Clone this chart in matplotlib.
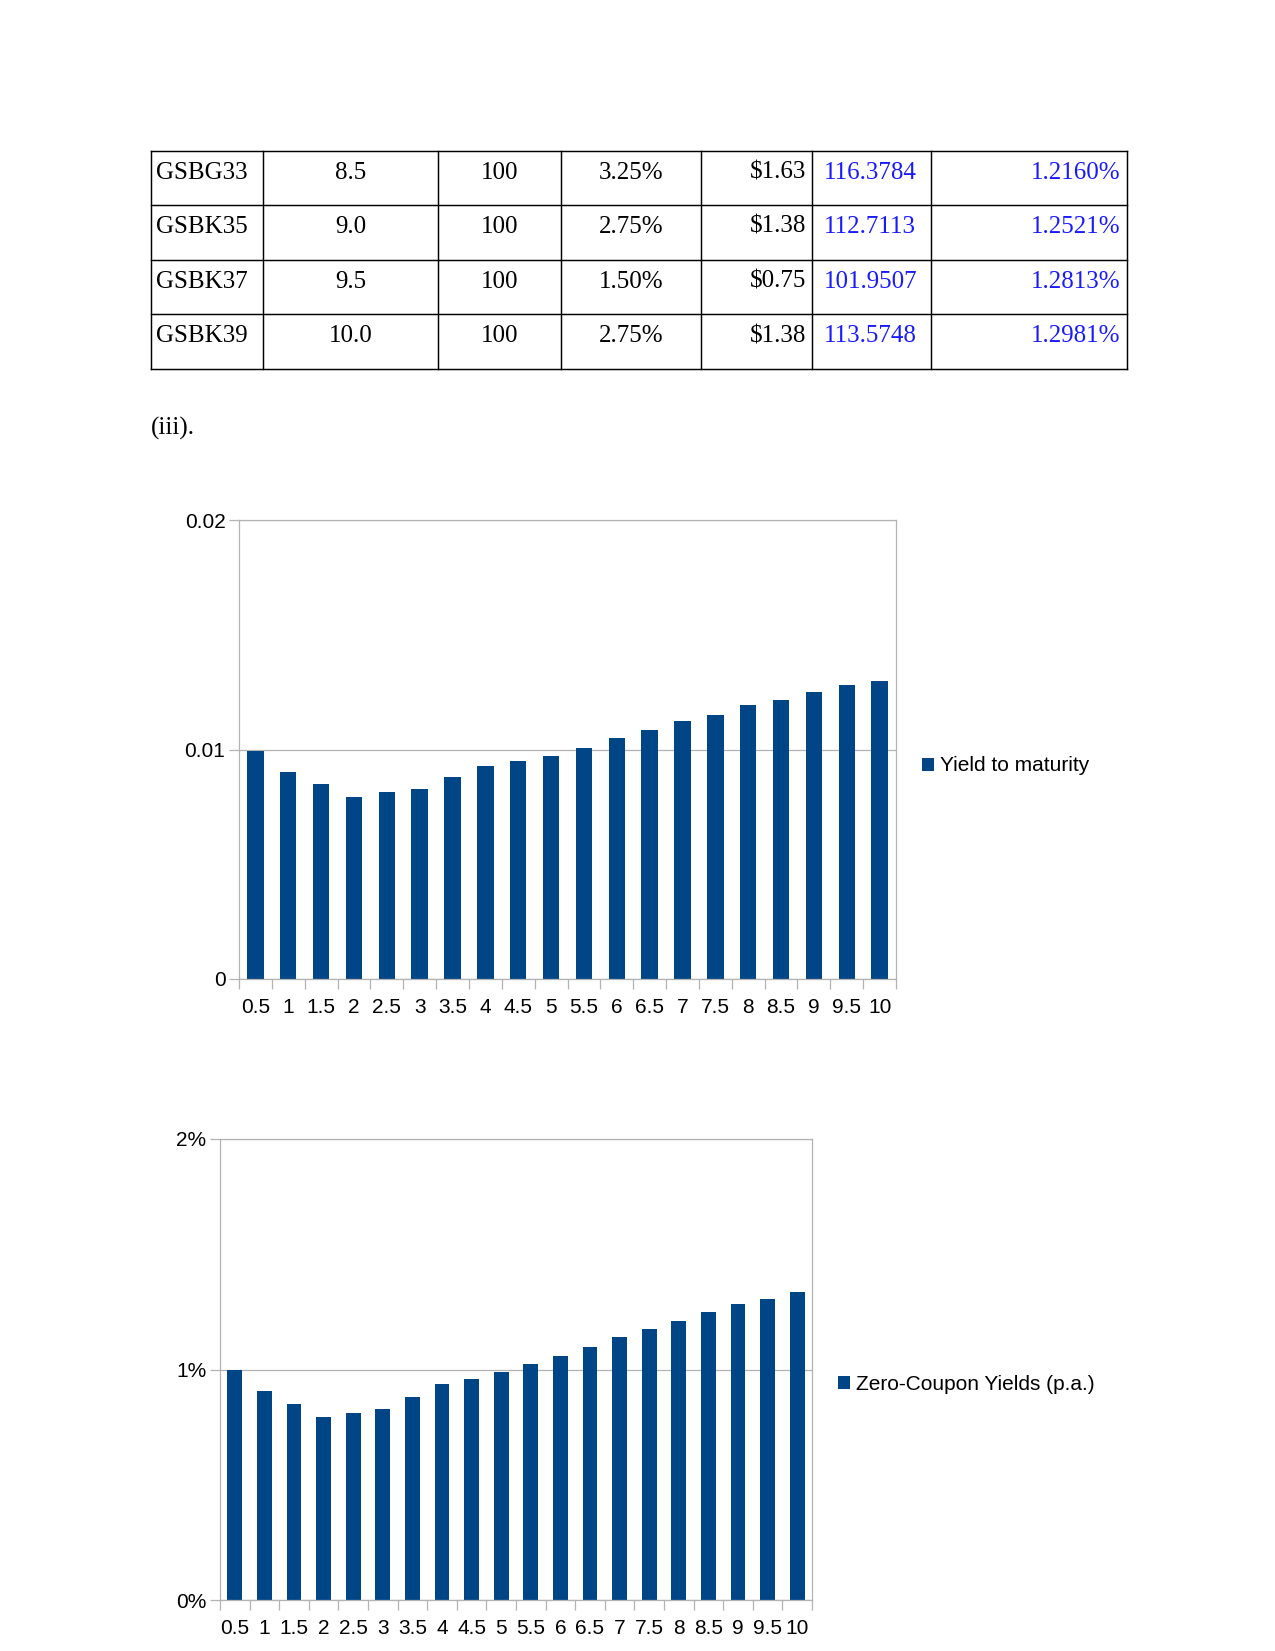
import matplotlib
matplotlib.use("Agg")
import matplotlib.pyplot as plt
from matplotlib.ticker import FixedLocator

plt.rcParams["font.family"] = ["Liberation Sans", "DejaVu Sans"]

# ---- data -------------------------------------------------------------------
bond_codes = ["GSBG33", "GSBK35", "GSBK37", "GSBK39"]
bond_maturity = ["8.5", "9.0", "9.5", "10.0"]
bond_face = ["100", "100", "100", "100"]
bond_coupon_rate = ["3.25%", "2.75%", "1.50%", "2.75%"]
bond_coupon = ["$1.63", "$1.38", "$0.75", "$1.38"]
bond_price = ["116.3784", "112.7113", "101.9507", "113.5748"]
bond_zero_yield = ["1.2160%", "1.2521%", "1.2813%", "1.2981%"]

maturities = [0.5, 1, 1.5, 2, 2.5, 3, 3.5, 4, 4.5, 5,
              5.5, 6, 6.5, 7, 7.5, 8, 8.5, 9, 9.5, 10]
ytm = [0.00994, 0.00903, 0.00851, 0.00794, 0.00816, 0.00829, 0.00878, 0.00929,
       0.00951, 0.00973, 0.01007, 0.01052, 0.01087, 0.01125, 0.01152, 0.01196,
       0.01216, 0.012521, 0.012813, 0.012981]
zero_yield_pct = [0.999, 0.907, 0.851, 0.794, 0.811, 0.829, 0.882, 0.938,
                  0.960, 0.987, 1.025, 1.060, 1.099, 1.139, 1.174, 1.212,
                  1.248, 1.283, 1.305, 1.335]
ytm_ticks = [0, 0.01, 0.02]
ytm_ticklabels = ["0", "0.01", "0.02"]
zero_ticks = [0, 1, 2]
zero_ticklabels = ["0%", "1%", "2%"]

BAR = "#004586"
GRID = "#b3b3b3"
W, H = 1275, 1651

fig = plt.figure(figsize=(W / 150, H / 150), dpi=150)

# ---- page: table and caption (pixel coordinates) ---------------------------
page = fig.add_axes([0, 0, 1, 1])
page.set_xlim(0, W)
page.set_ylim(H, 0)
page.axis("off")

col_edges = [150.9, 263.2, 437.6, 560.8, 701.3, 812.4, 931.2, 1126.6]
row_edges = [150.7, 205.0, 259.5, 314.3, 369.3]
for x in col_edges:
    page.plot([x, x], [row_edges[0], row_edges[-1]], color="black", lw=0.7)
for y in row_edges:
    page.plot([col_edges[0], col_edges[-1]], [y, y], color="black", lw=0.7)

columns = [bond_codes, bond_maturity, bond_face, bond_coupon_rate,
           bond_coupon, bond_price, bond_zero_yield]
# (x anchor, alignment, colour) per column
col_style = [(156, "left", "black"),
             ((col_edges[1] + col_edges[2]) / 2, "center", "black"),
             ((col_edges[2] + col_edges[3]) / 2, "center", "black"),
             ((col_edges[3] + col_edges[4]) / 2, "center", "black"),
             (806, "right", "black"),
             (824, "left", "#1a1aff"),
             (1120, "right", "#1a1aff")]
for ci, col in enumerate(columns):
    xa, ha, c = col_style[ci]
    for ri, txt in enumerate(col):
        page.text(xa, row_edges[ri] + 28, txt, ha=ha, va="baseline",
                  fontsize=12, color=c, family="Liberation Serif")

page.text(150.9, 435, "(iii).", ha="left", va="baseline", fontsize=12,
          family="Liberation Serif")


def bar_chart(box, values, ticks, ticklabels, ylim, label, legend_xy):
    left, top, right, bottom = box
    ax = fig.add_axes([left / W, 1 - bottom / H, (right - left) / W, (bottom - top) / H])
    xs = list(range(len(values)))
    ax.bar(xs, values, width=0.5, color=BAR, label=label, zorder=2)
    ax.set_xlim(-0.5, len(values) - 0.5)
    ax.set_ylim(*ylim)
    ax.set_xticks(xs)
    ax.set_xticklabels([f"{m:g}" for m in maturities])
    ax.xaxis.set_minor_locator(FixedLocator([i - 0.5 for i in range(len(values) + 1)]))
    ax.tick_params(axis="x", which="major", length=0, pad=9, labelsize=10)
    ax.tick_params(axis="x", which="minor", length=5, color=GRID, width=0.6)
    ax.set_yticks(ticks)
    ax.set_yticklabels(ticklabels)
    ax.tick_params(axis="y", length=5, color=GRID, width=0.6, pad=1.5, labelsize=10)
    ax.yaxis.grid(True, color=GRID, lw=0.6)
    ax.set_axisbelow(True)
    for s in ax.spines.values():
        s.set_color(GRID)
        s.set_linewidth(0.6)
    ax.legend(loc="center left", bbox_to_anchor=(legend_xy[0] / W, 1 - legend_xy[1] / H),
              bbox_transform=fig.transFigure, frameon=False, fontsize=10,
              handlelength=0.58, handleheight=0.58, handletextpad=0.3,
              borderpad=0, borderaxespad=0)
    return ax


bar_chart((239, 520, 896, 979), ytm, ytm_ticks, ytm_ticklabels, (0, 0.02),
          "Yield to maturity", (922, 766))
bar_chart((220, 1139, 812, 1600), zero_yield_pct, zero_ticks, zero_ticklabels, (0, 2),
          "Zero-Coupon Yields (p.a.)", (838, 1384))

fig.savefig("out.png", dpi=150)
